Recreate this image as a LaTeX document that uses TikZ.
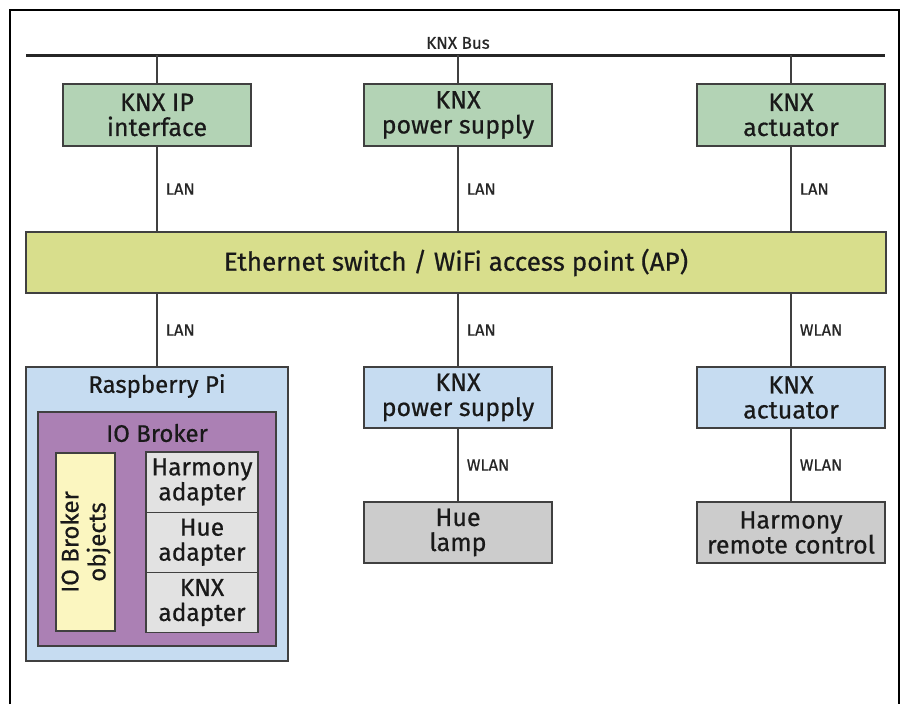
\documentclass[tikz,border=0pt]{standalone}
\usepackage{fontspec}
\setmainfont{Fira Sans}[FakeBold=0.6]
\begin{document}
\begin{tikzpicture}[x=1pt,y=-1pt,
  box/.style={draw=black!75,line width=1.3pt,align=center,inner sep=0pt,font=\fontsize{25}{25}\selectfont,text=black!90},
  green/.style={box,fill=green1,minimum width=188pt,minimum height=62pt},
  blue/.style={box,fill=blue1,minimum width=188pt,minimum height=61pt},
  grey/.style={box,fill=grey1,minimum width=188pt,minimum height=61pt},
  adapter/.style={box,fill=grey2,minimum width=112pt,minimum height=60.3pt,font=\fontsize{24.5}{25}\selectfont},
  conn/.style={draw=black!75,line width=1.6pt},
  lbl/.style={anchor=west,inner sep=0pt,font=\fontsize{16.5}{18}\selectfont,text=black!85},
  title/.style={inner sep=0pt,font=\fontsize{24}{27}\selectfont,text=black!90}]
\definecolor{green1}{HTML}{B3D3B5}
\definecolor{eth}{HTML}{D8DE8C}
\definecolor{blue1}{HTML}{C6DCF1}
\definecolor{grey1}{HTML}{CCCCCC}
\definecolor{grey2}{HTML}{E2E2E2}
\definecolor{purple1}{HTML}{AB80B4}
\definecolor{yellow1}{HTML}{FBF6C0}
\useasboundingbox (0,0) rectangle (904,704);
\fill[white] (0,0) rectangle (904,704);
% frame
\draw[line width=1.3pt] (10,704) -- (10,10) -- (899,10) -- (899,704);
% KNX bus
\coordinate (busL) at (26,55);
\coordinate (busR) at (885,55);
\draw[line width=3pt,black!85] (busL) -- (busR);
\node[inner sep=0pt,font=\fontsize{17}{19}\selectfont,text=black!85] (bus) at (458,43) {KNX Bus};
% top row
\node[green] (t1) at (157,115) {KNX IP\\interface};
\node[green] (t2) at (458,115) {KNX\\power supply};
\node[green] (t3) at (791,115) {KNX\\actuator};
\draw[conn] (t1.north) -- (t1.north |- busL);
\draw[conn] (t2.north) -- (t2.north |- busL);
\draw[conn] (t3.north) -- (t3.north |- busL);
% ethernet
\node[box,fill=eth,minimum width=860pt,minimum height=61pt,font=\fontsize{26}{28}\selectfont] (eth) at (456,262.5) {Ethernet switch / WiFi access point (AP)};
\draw[conn] (t1.south) -- (t1.south |- eth.north) node[lbl,pos=0.5,xshift=8pt] (l1) {LAN};
\draw[conn] (t2.south) -- (t2.south |- eth.north) node[lbl,pos=0.5,xshift=8pt] (l2) {LAN};
\draw[conn] (t3.south) -- (t3.south |- eth.north) node[lbl,pos=0.5,xshift=8pt] (l3) {LAN};
% raspberry pi
\node[box,fill=blue1,minimum width=262pt,minimum height=294pt] (rpi) at (157,514) {};
\node[title] (rpit) at (157,386) {Raspberry Pi};
\node[box,fill=purple1,minimum width=238pt,minimum height=234pt] (iob) at (157,529) {};
\node[title] (iobt) at (157,433) {IO Broker};
\node[box,fill=yellow1,minimum width=59pt,minimum height=178pt] (obj) at (85.5,542) {};
\node[title,rotate=90,align=center] (objt) at (obj.center) {IO Broker\\objects};
\node[adapter] (a1) at (202,482) {Harmony\\adapter};
\node[adapter] (a2) at (202,542.3) {Hue\\adapter};
\node[adapter] (a3) at (202,602.6) {KNX\\adapter};
% middle / right
\node[blue] (m1) at (458,397.5) {KNX\\power supply};
\node[blue] (r1) at (791,397.5) {KNX\\actuator};
\node[grey] (m2) at (458,532.5) {Hue\\lamp};
\node[grey] (r2) at (791,532.5) {Harmony\\remote control};
\draw[conn] (eth.south -| rpi.north) -- (rpi.north) node[lbl,pos=0.5,xshift=8pt] (l4) {LAN};
\draw[conn] (eth.south -| m1.north) -- (m1.north) node[lbl,pos=0.5,xshift=8pt] (l5) {LAN};
\draw[conn] (eth.south -| r1.north) -- (r1.north) node[lbl,pos=0.5,xshift=8pt] (l6) {WLAN};
\draw[conn] (m1.south) -- (m2.north) node[lbl,pos=0.5,xshift=8pt] (l7) {WLAN};
\draw[conn] (r1.south) -- (r2.north) node[lbl,pos=0.5,xshift=8pt] (l8) {WLAN};
\end{tikzpicture}
\end{document}
